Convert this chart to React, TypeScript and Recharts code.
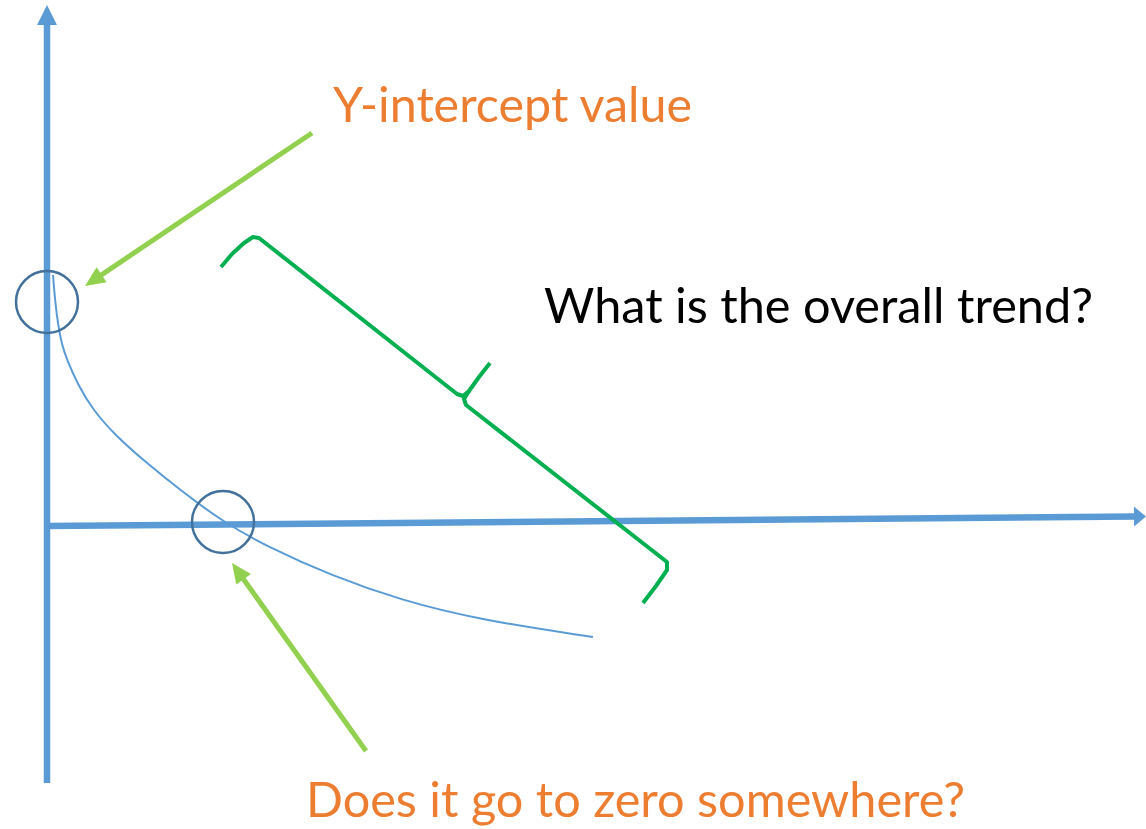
import {
  ComposedChart,
  Line,
  ReferenceDot,
  ReferenceLine,
  XAxis,
  YAxis,
} from "recharts";

// diagram units: origin where the two axes cross, 1 unit ~ 100px
const curve = [
  { x: 0.06, y: 2.51 },
  { x: 0.08, y: 2.26 },
  { x: 0.11, y: 2.01 },
  { x: 0.15, y: 1.81 },
  { x: 0.2, y: 1.66 },
  { x: 0.31, y: 1.41 },
  { x: 0.46, y: 1.16 },
  { x: 0.68, y: 0.91 },
  { x: 0.96, y: 0.66 },
  { x: 1.33, y: 0.36 },
  { x: 1.76, y: 0.04 },
  { x: 2.23, y: -0.22 },
  { x: 2.83, y: -0.49 },
  { x: 3.53, y: -0.74 },
  { x: 4.33, y: -0.94 },
  { x: 5.46, y: -1.11 },
];

const braceUpper = [
  { x: 1.74, y: 2.59 },
  { x: 1.85, y: 2.72 },
  { x: 1.97, y: 2.83 },
  { x: 2.06, y: 2.89 },
  { x: 2.12, y: 2.88 },
  { x: 4.1, y: 1.32 },
  { x: 4.16, y: 1.3 },
  { x: 4.22, y: 1.35 },
  { x: 4.32, y: 1.49 },
  { x: 4.43, y: 1.63 },
];

const braceLower = [
  { x: 4.22, y: 1.35 },
  { x: 4.17, y: 1.27 },
  { x: 4.19, y: 1.21 },
  { x: 6.2, y: -0.36 },
  { x: 6.2, y: -0.44 },
  { x: 6.09, y: -0.6 },
  { x: 5.96, y: -0.77 },
];

const xAxisArrow = [
  { x: 0, y: 0 },
  { x: 10.99, y: 0.095 },
];
const yAxisArrow = [
  { x: 0, y: -2.57 },
  { x: 0, y: 5.21 },
];

const pointerArrows = [
  [
    { x: 2.65, y: 3.93 },
    { x: 0.38, y: 2.4 },
  ],
  [
    { x: 3.19, y: -2.25 },
    { x: 1.85, y: -0.37 },
  ],
];

const circles = [
  { x: 0, y: 2.24 },
  { x: 1.76, y: 0.04 },
];

const labels = ["Y-intercept value", "What is the overall trend?", "Does it go to zero somewhere?"];
const labelAnchors = [
  { x: 2.86, y: 4.04 },
  { x: 4.97, y: 2.03 },
  { x: 2.59, y: -2.91 },
];

const labelStyle = [
  { fill: "#ED7D31", width: 359 },
  { fill: "#000000", width: 549 },
  { fill: "#ED7D31", width: 659 },
];

const AXIS_BLUE = "#5B9BD5";

function arrowShape(color: string, width: number, headLen: number, headHalf: number) {
  return (props: any) => {
    const { x1, y1, x2, y2 } = props;
    const dx = x2 - x1;
    const dy = y2 - y1;
    const len = Math.hypot(dx, dy) || 1;
    const ux = dx / len;
    const uy = dy / len;
    const bx = x2 - ux * headLen;
    const by = y2 - uy * headLen;
    const px = -uy * headHalf;
    const py = ux * headHalf;
    return (
      <g>
        <line x1={x1} y1={y1} x2={bx + ux} y2={by + uy} stroke={color} strokeWidth={width} />
        <polygon
          points={`${x2},${y2} ${bx + px},${by + py} ${bx - px},${by - py}`}
          fill={color}
        />
      </g>
    );
  };
}

function textShape(text: string, fill: string, width: number) {
  return (props: any) => (
    <text
      x={props.cx}
      y={props.cy}
      fill={fill}
      fontFamily="Lato, 'Open Sans', sans-serif"
      fontSize={48}
      textLength={width}
      lengthAdjust="spacingAndGlyphs"
    >
      {text}
    </text>
  );
}

export default function App() {
  return (
    <div style={{ position: "absolute", left: 0, top: 0, width: 1146, height: 829, background: "#fff" }}>
      <ComposedChart width={1146} height={829} margin={{ top: 0, right: 0, bottom: 0, left: 0 }}>
        <XAxis type="number" dataKey="x" domain={[-0.47, 10.99]} allowDataOverflow hide />
        <YAxis type="number" dataKey="y" domain={[-3.03, 5.26]} allowDataOverflow hide />

        <ReferenceLine segment={yAxisArrow} shape={arrowShape(AXIS_BLUE, 6.5, 20, 10)} />
        <ReferenceLine segment={xAxisArrow} shape={arrowShape(AXIS_BLUE, 6.5, 12, 10)} />

        <Line
          data={curve}
          dataKey="y"
          type="basis"
          stroke={AXIS_BLUE}
          strokeWidth={2}
          dot={false}
          activeDot={false}
          isAnimationActive={false}
        />
        <Line
          data={braceUpper}
          dataKey="y"
          type="linear"
          stroke="#00B050"
          strokeWidth={4}
          strokeLinejoin="round"
          dot={false}
          activeDot={false}
          isAnimationActive={false}
        />
        <Line
          data={braceLower}
          dataKey="y"
          type="linear"
          stroke="#00B050"
          strokeWidth={4}
          strokeLinejoin="round"
          dot={false}
          activeDot={false}
          isAnimationActive={false}
        />

        {circles.map((c, i) => (
          <ReferenceDot
            key={`c${i}`}
            x={c.x}
            y={c.y}
            r={31}
            fill="none"
            stroke="#41719C"
            strokeWidth={2.5}
          />
        ))}

        {pointerArrows.map((seg, i) => (
          <ReferenceLine key={`a${i}`} segment={seg} shape={arrowShape("#92D050", 5, 20, 9)} />
        ))}

        {labels.map((t, i) => (
          <ReferenceDot
            key={`t${i}`}
            x={labelAnchors[i].x}
            y={labelAnchors[i].y}
            r={1}
            shape={textShape(t, labelStyle[i].fill, labelStyle[i].width)}
          />
        ))}
      </ComposedChart>
    </div>
  );
}
